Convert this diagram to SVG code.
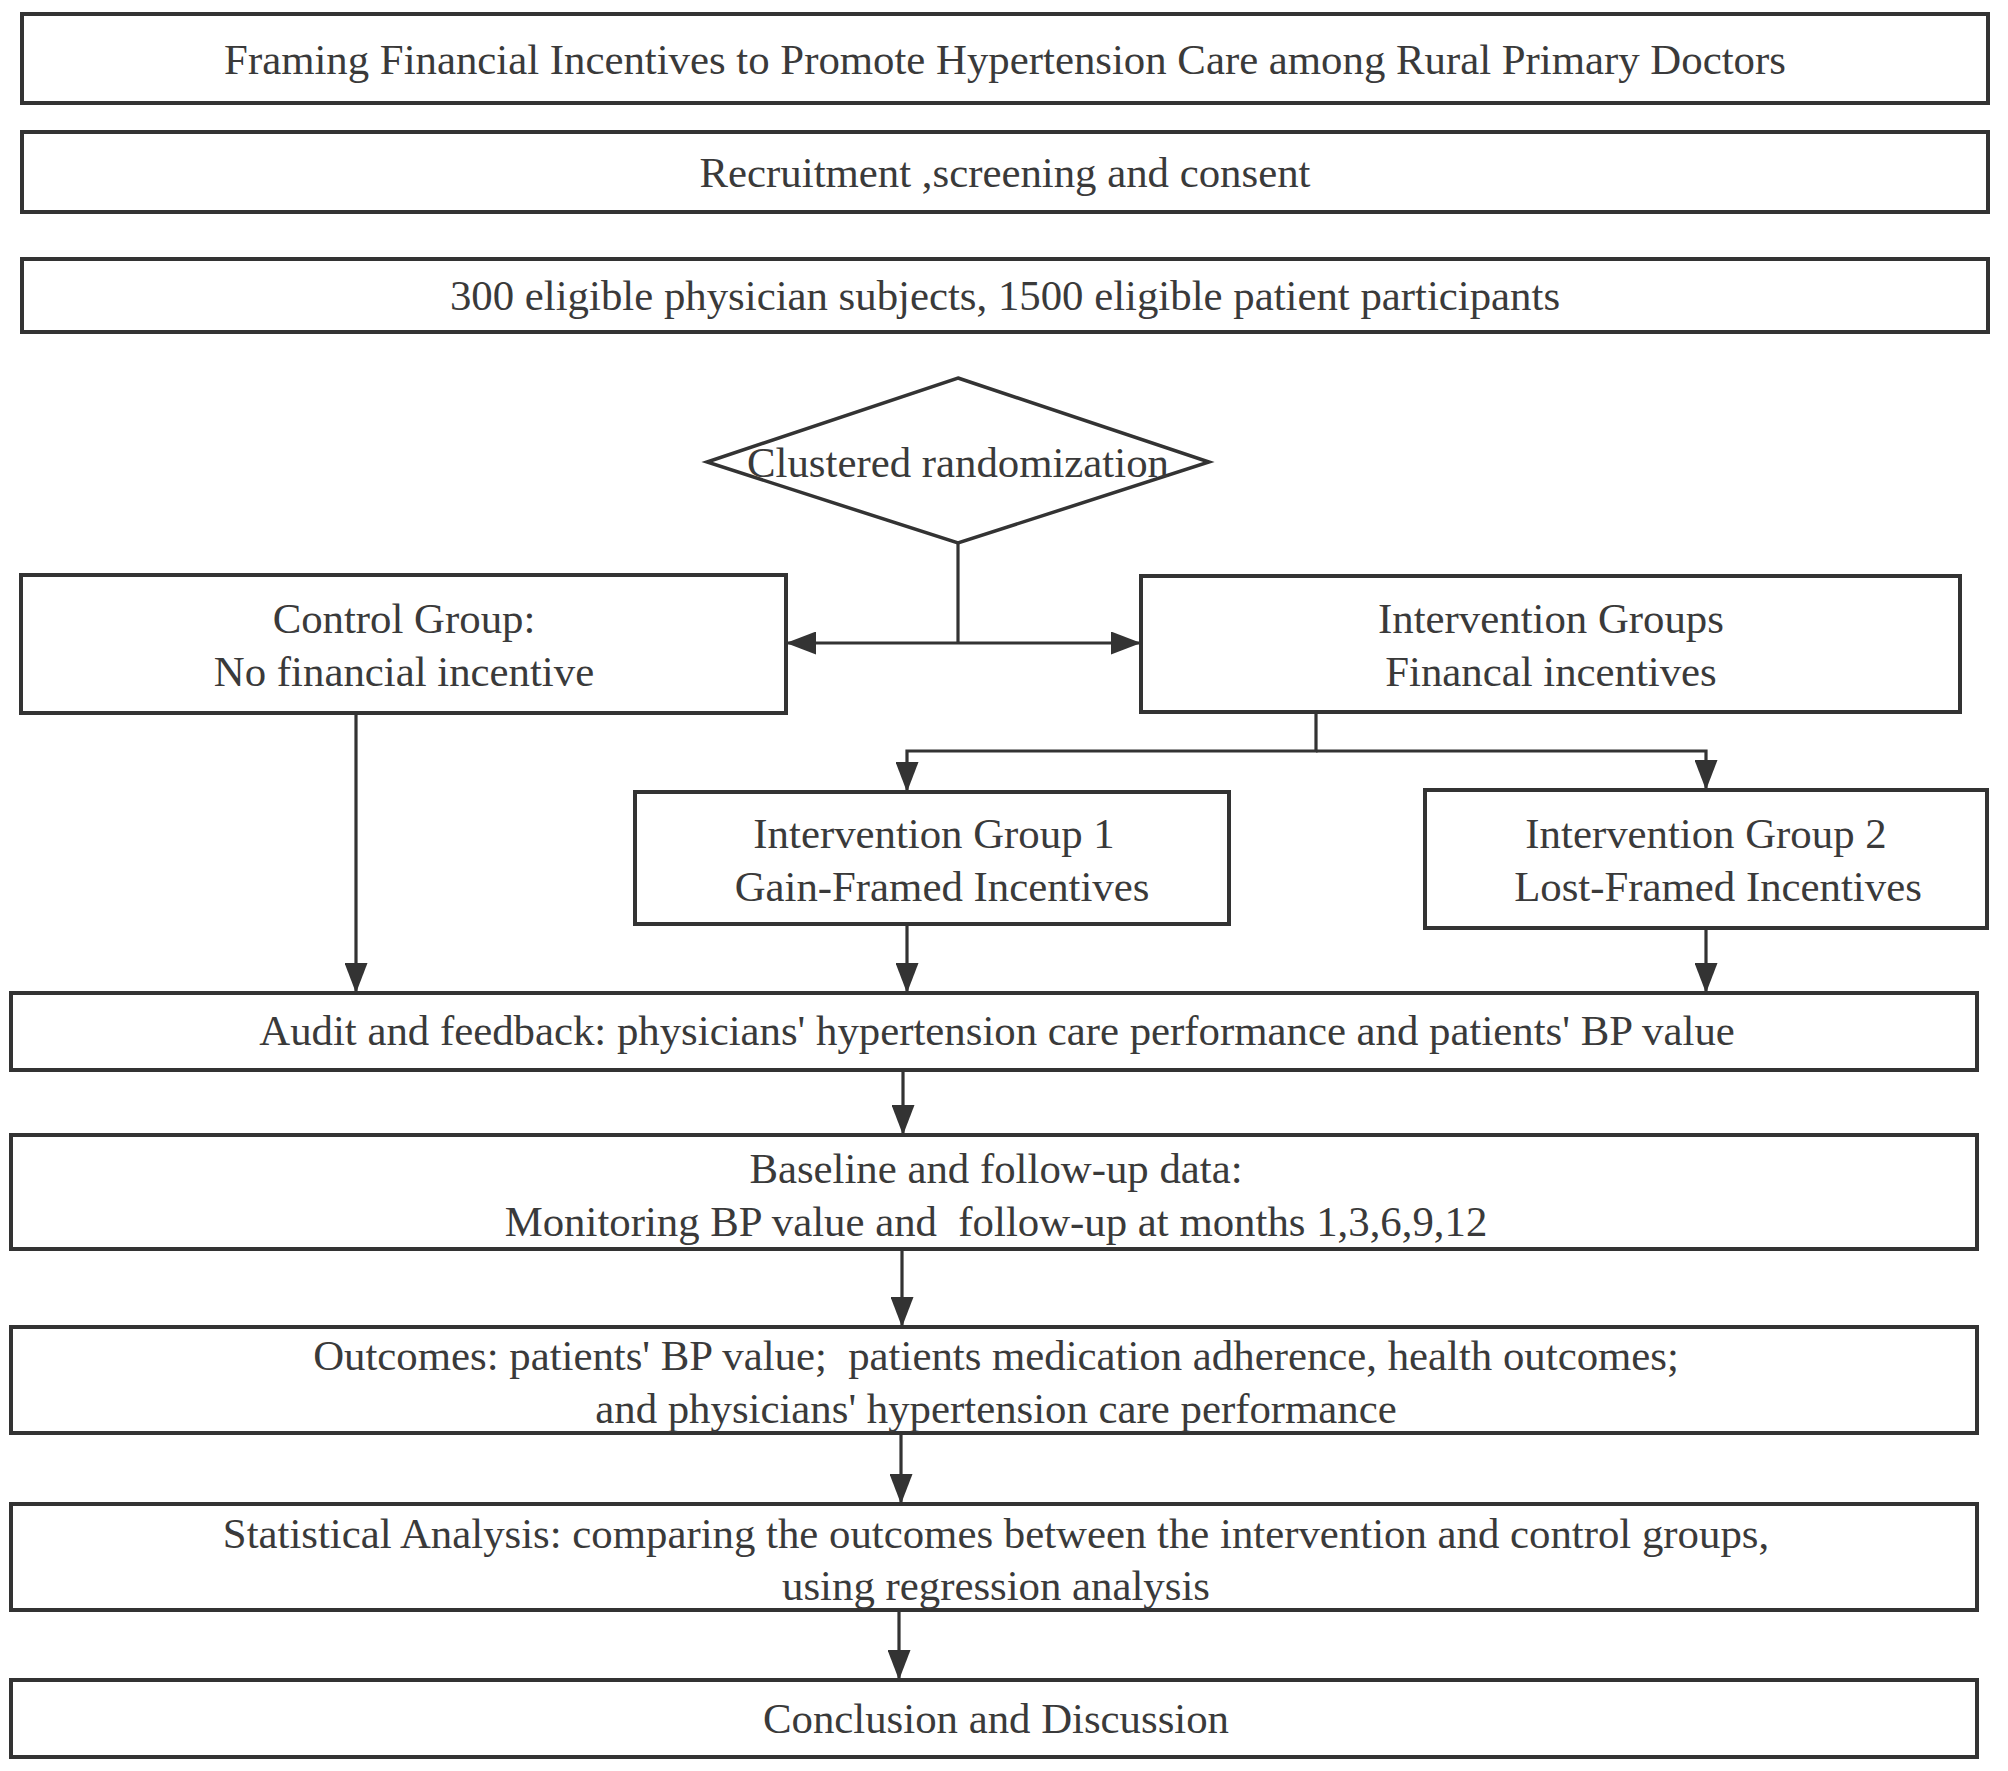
<svg xmlns="http://www.w3.org/2000/svg" width="2008" height="1771" viewBox="0 0 2008 1771">
<defs>
<style>
.box{fill:#fff;stroke:#333;stroke-width:4}
.dia{fill:#fff;stroke:#333;stroke-width:3.5}
.t{font-family:"Liberation Serif","Times New Roman",serif;font-size:42.8px;fill:#3a3a3a;text-anchor:middle}
.c{fill:none;stroke:#333;stroke-width:3.2}
</style>
<marker id="ah" markerUnits="userSpaceOnUse" markerWidth="30" markerHeight="23" refX="30" refY="11.5" orient="auto">
<path d="M0,0 L30,11.5 L0,23 z" fill="#333"/>
</marker>
</defs>
<rect width="2008" height="1771" fill="#fff"/>
<g id="connectors">
<path class="c" d="M958,543 V643"/>
<path class="c" d="M958,643 H786" marker-end="url(#ah)"/>
<path class="c" d="M958,643 H1141" marker-end="url(#ah)"/>
<path class="c" d="M1316,712 V751 H907 V792" marker-end="url(#ah)"/>
<path class="c" d="M1316,751 H1706 V790" marker-end="url(#ah)"/>
<path class="c" d="M356,713 V993" marker-end="url(#ah)"/>
<path class="c" d="M907,924 V993" marker-end="url(#ah)"/>
<path class="c" d="M1706,928 V993" marker-end="url(#ah)"/>
<path class="c" d="M903,1070 V1135" marker-end="url(#ah)"/>
<path class="c" d="M902,1249 V1327" marker-end="url(#ah)"/>
<path class="c" d="M901,1433 V1504" marker-end="url(#ah)"/>
<path class="c" d="M899,1610 V1680" marker-end="url(#ah)"/>
</g>
<g id="title">
<rect class="box" x="22" y="14" width="1966" height="89"/>
<text class="t" x="1005" y="74">Framing Financial Incentives to Promote Hypertension Care among Rural Primary Doctors</text>
</g>
<g id="recruitment">
<rect class="box" x="22" y="132" width="1966" height="80"/>
<text class="t" x="1005" y="187">Recruitment ,screening and consent</text>
</g>
<g id="eligible">
<rect class="box" x="22" y="259" width="1966" height="73"/>
<text class="t" x="1005" y="310">300 eligible physician subjects, 1500 eligible patient participants</text>
</g>
<g id="randomization">
<polygon class="dia" points="958,378 1209,462 958,543 707,462"/>
<text class="t" x="958" y="477">Clustered randomization</text>
</g>
<g id="control">
<rect class="box" x="21" y="575" width="765" height="138"/>
<text class="t" x="404" y="633">Control Group:</text>
<text class="t" x="404" y="686">No financial incentive</text>
</g>
<g id="intervention">
<rect class="box" x="1141" y="576" width="819" height="136"/>
<text class="t" x="1551" y="633">Intervention Groups</text>
<text class="t" x="1551" y="686">Financal incentives</text>
</g>
<g id="ig1">
<rect class="box" x="635" y="792" width="594" height="132"/>
<text class="t" x="934" y="848">Intervention Group 1</text>
<text class="t" x="942" y="901">Gain-Framed Incentives</text>
</g>
<g id="ig2">
<rect class="box" x="1425" y="790" width="562" height="138"/>
<text class="t" x="1706" y="848">Intervention Group 2</text>
<text class="t" x="1718" y="901">Lost-Framed Incentives</text>
</g>
<g id="audit">
<rect class="box" x="11" y="993" width="1966" height="77"/>
<text class="t" x="997" y="1045">Audit and feedback: physicians' hypertension care performance and patients' BP value</text>
</g>
<g id="baseline">
<rect class="box" x="11" y="1135" width="1966" height="114"/>
<text class="t" x="996" y="1183">Baseline and follow-up data:</text>
<text class="t" x="996" y="1236" xml:space="preserve">Monitoring BP value and  follow-up at months 1,3,6,9,12</text>
</g>
<g id="outcomes">
<rect class="box" x="11" y="1327" width="1966" height="106"/>
<text class="t" x="996" y="1370" xml:space="preserve">Outcomes: patients' BP value;  patients medication adherence, health outcomes;</text>
<text class="t" x="996" y="1423">and physicians' hypertension care performance</text>
</g>
<g id="statistics">
<rect class="box" x="11" y="1504" width="1966" height="106"/>
<text class="t" x="996" y="1548">Statistical Analysis: comparing the outcomes between the intervention and control groups,</text>
<text class="t" x="996" y="1600">using regression analysis</text>
</g>
<g id="conclusion">
<rect class="box" x="11" y="1680" width="1966" height="77"/>
<text class="t" x="996" y="1733">Conclusion and Discussion</text>
</g>
</svg>
